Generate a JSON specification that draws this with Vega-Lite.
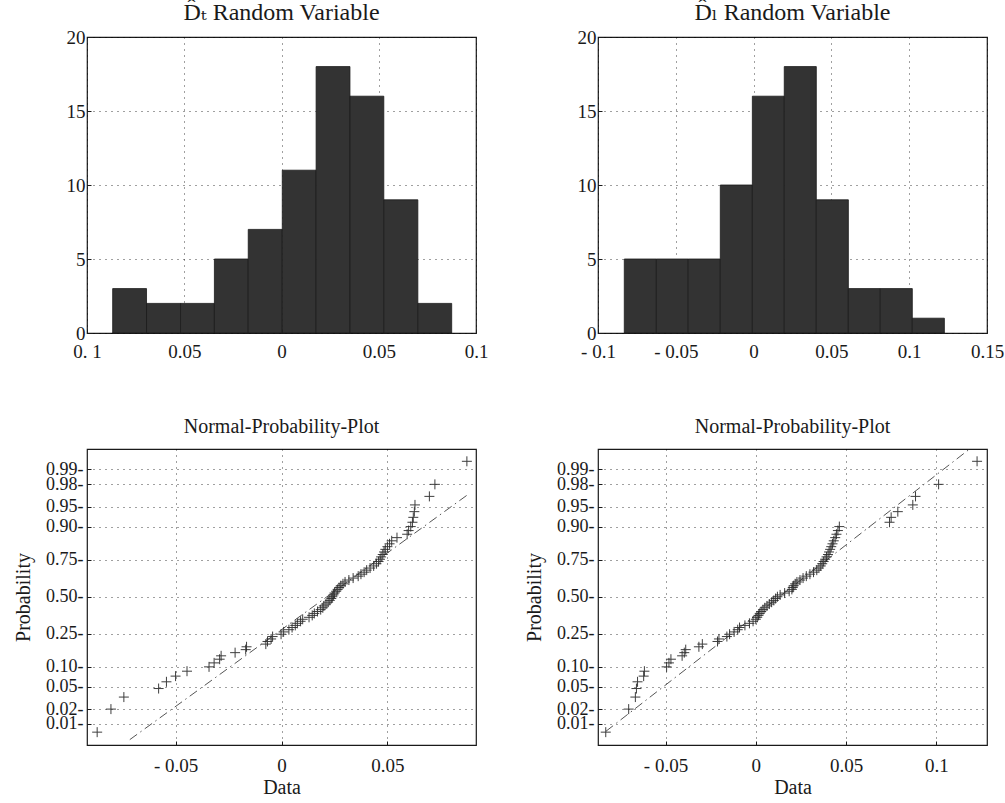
{
  "$schema": "https://vega.github.io/schema/vega-lite/v6.json",
  "padding": {"left": 12, "top": 0, "right": 5, "bottom": 5},
  "columns": 2,
  "bounds": "flush",
  "spacing": {"row": 116, "column": 122},
  "config": {
    "font": "Liberation Serif, DejaVu Serif, serif",
    "view": {"stroke": "#1a1a1a", "strokeWidth": 1.2},
    "axis": {
      "labelFont": "Liberation Serif, DejaVu Serif, serif", "labelFontSize": 19, "labelColor": "#1a1a1a",
      "titleFont": "Liberation Serif, DejaVu Serif, serif", "titleFontSize": 20, "titleFontWeight": "normal", "titleColor": "#1a1a1a",
      "domain": false, "tickSize": -4, "tickColor": "#1a1a1a", "labelFlush": false, "labelOverlap": false,
      "grid": true, "gridColor": "#000000", "gridDash": [1, 5], "gridOpacity": 0.75, "gridWidth": 1
    },
    "title": {"font": "Liberation Serif, DejaVu Serif, serif", "fontWeight": "normal", "color": "#1a1a1a"}
  },
  "datasets": {
    "histT": [
      {"start": -0.0868, "end": -0.0694, "count": 3},
      {"start": -0.0694, "end": -0.0519, "count": 2},
      {"start": -0.0519, "end": -0.0345, "count": 2},
      {"start": -0.0345, "end": -0.0171, "count": 5},
      {"start": -0.0171, "end": 0.0004, "count": 7},
      {"start": 0.0004, "end": 0.0178, "count": 11},
      {"start": 0.0178, "end": 0.0352, "count": 18},
      {"start": 0.0352, "end": 0.0526, "count": 16},
      {"start": 0.0526, "end": 0.0701, "count": 9},
      {"start": 0.0701, "end": 0.0875, "count": 2}
    ],
    "histL": [
      {"start": -0.0831, "end": -0.0625, "count": 5},
      {"start": -0.0625, "end": -0.0420, "count": 5},
      {"start": -0.0420, "end": -0.0214, "count": 5},
      {"start": -0.0214, "end": -0.0008, "count": 10},
      {"start": -0.0008, "end": 0.0197, "count": 16},
      {"start": 0.0197, "end": 0.0403, "count": 18},
      {"start": 0.0403, "end": 0.0609, "count": 9},
      {"start": 0.0609, "end": 0.0814, "count": 3},
      {"start": 0.0814, "end": 0.1020, "count": 3},
      {"start": 0.1020, "end": 0.1226, "count": 1}
    ],
    "npT": [
      {"value": -0.0870, "q": -2.475}, {"value": -0.0805, "q": -2.054}, {"value": -0.0744, "q": -1.834},
      {"value": -0.0580, "q": -1.678}, {"value": -0.0543, "q": -1.555}, {"value": -0.0500, "q": -1.451},
      {"value": -0.0446, "q": -1.361}, {"value": -0.0342, "q": -1.282}, {"value": -0.0318, "q": -1.209},
      {"value": -0.0292, "q": -1.142}, {"value": -0.0285, "q": -1.080}, {"value": -0.0219, "q": -1.022},
      {"value": -0.0169, "q": -0.967}, {"value": -0.0165, "q": -0.915}, {"value": -0.0074, "q": -0.866},
      {"value": -0.0066, "q": -0.818}, {"value": -0.0049, "q": -0.772}, {"value": -0.0042, "q": -0.728},
      {"value": -0.0002, "q": -0.685}, {"value": 0.0010, "q": -0.643}, {"value": 0.0035, "q": -0.603},
      {"value": 0.0050, "q": -0.563}, {"value": 0.0065, "q": -0.524}, {"value": 0.0075, "q": -0.486},
      {"value": 0.0090, "q": -0.449}, {"value": 0.0100, "q": -0.412}, {"value": 0.0130, "q": -0.376},
      {"value": 0.0145, "q": -0.341}, {"value": 0.0155, "q": -0.305}, {"value": 0.0170, "q": -0.270},
      {"value": 0.0185, "q": -0.236}, {"value": 0.0195, "q": -0.202}, {"value": 0.0200, "q": -0.168},
      {"value": 0.0210, "q": -0.134}, {"value": 0.0220, "q": -0.100}, {"value": 0.0228, "q": -0.067},
      {"value": 0.0235, "q": -0.033}, {"value": 0.0240, "q": 0.000}, {"value": 0.0245, "q": 0.033},
      {"value": 0.0250, "q": 0.067}, {"value": 0.0258, "q": 0.100}, {"value": 0.0265, "q": 0.134},
      {"value": 0.0272, "q": 0.168}, {"value": 0.0280, "q": 0.202}, {"value": 0.0290, "q": 0.236},
      {"value": 0.0300, "q": 0.270}, {"value": 0.0318, "q": 0.305}, {"value": 0.0338, "q": 0.341},
      {"value": 0.0362, "q": 0.376}, {"value": 0.0375, "q": 0.412}, {"value": 0.0390, "q": 0.449},
      {"value": 0.0402, "q": 0.486}, {"value": 0.0418, "q": 0.524}, {"value": 0.0435, "q": 0.563},
      {"value": 0.0448, "q": 0.603}, {"value": 0.0458, "q": 0.643}, {"value": 0.0465, "q": 0.685},
      {"value": 0.0470, "q": 0.728}, {"value": 0.0478, "q": 0.772}, {"value": 0.0484, "q": 0.818},
      {"value": 0.0490, "q": 0.866}, {"value": 0.0500, "q": 0.915}, {"value": 0.0510, "q": 0.967},
      {"value": 0.0520, "q": 1.022}, {"value": 0.0545, "q": 1.080}, {"value": 0.0593, "q": 1.142},
      {"value": 0.0600, "q": 1.209}, {"value": 0.0610, "q": 1.282}, {"value": 0.0618, "q": 1.361},
      {"value": 0.0622, "q": 1.451}, {"value": 0.0627, "q": 1.555}, {"value": 0.0630, "q": 1.678},
      {"value": 0.0698, "q": 1.834}, {"value": 0.0724, "q": 2.054}, {"value": 0.0875, "q": 2.475}
    ],
    "npL": [
      {"value": -0.0831, "q": -2.475}, {"value": -0.0704, "q": -2.054}, {"value": -0.0667, "q": -1.834},
      {"value": -0.0661, "q": -1.678}, {"value": -0.0655, "q": -1.555}, {"value": -0.0621, "q": -1.451},
      {"value": -0.0617, "q": -1.361}, {"value": -0.0494, "q": -1.282}, {"value": -0.0481, "q": -1.209},
      {"value": -0.0470, "q": -1.142}, {"value": -0.0408, "q": -1.080}, {"value": -0.0396, "q": -1.022},
      {"value": -0.0388, "q": -0.967}, {"value": -0.0315, "q": -0.915}, {"value": -0.0296, "q": -0.866},
      {"value": -0.0212, "q": -0.818}, {"value": -0.0204, "q": -0.772}, {"value": -0.0160, "q": -0.728},
      {"value": -0.0145, "q": -0.685}, {"value": -0.0120, "q": -0.643}, {"value": -0.0100, "q": -0.603},
      {"value": -0.0090, "q": -0.563}, {"value": -0.0060, "q": -0.524}, {"value": -0.0035, "q": -0.486},
      {"value": -0.0015, "q": -0.449}, {"value": 0.0000, "q": -0.412}, {"value": 0.0008, "q": -0.376},
      {"value": 0.0015, "q": -0.341}, {"value": 0.0022, "q": -0.305}, {"value": 0.0030, "q": -0.270},
      {"value": 0.0040, "q": -0.236}, {"value": 0.0050, "q": -0.202}, {"value": 0.0062, "q": -0.168},
      {"value": 0.0075, "q": -0.134}, {"value": 0.0088, "q": -0.100}, {"value": 0.0100, "q": -0.067},
      {"value": 0.0110, "q": -0.033}, {"value": 0.0120, "q": 0.000}, {"value": 0.0135, "q": 0.033},
      {"value": 0.0160, "q": 0.067}, {"value": 0.0185, "q": 0.100}, {"value": 0.0200, "q": 0.134},
      {"value": 0.0205, "q": 0.168}, {"value": 0.0210, "q": 0.202}, {"value": 0.0218, "q": 0.236},
      {"value": 0.0228, "q": 0.270}, {"value": 0.0245, "q": 0.305}, {"value": 0.0262, "q": 0.341},
      {"value": 0.0280, "q": 0.376}, {"value": 0.0300, "q": 0.412}, {"value": 0.0320, "q": 0.449},
      {"value": 0.0338, "q": 0.486}, {"value": 0.0350, "q": 0.524}, {"value": 0.0360, "q": 0.563},
      {"value": 0.0368, "q": 0.603}, {"value": 0.0376, "q": 0.643}, {"value": 0.0384, "q": 0.685},
      {"value": 0.0392, "q": 0.728}, {"value": 0.0400, "q": 0.772}, {"value": 0.0406, "q": 0.818},
      {"value": 0.0412, "q": 0.866}, {"value": 0.0418, "q": 0.915}, {"value": 0.0425, "q": 0.967},
      {"value": 0.0432, "q": 1.022}, {"value": 0.0440, "q": 1.080}, {"value": 0.0447, "q": 1.142},
      {"value": 0.0455, "q": 1.209}, {"value": 0.0463, "q": 1.282}, {"value": 0.0741, "q": 1.361},
      {"value": 0.0750, "q": 1.451}, {"value": 0.0787, "q": 1.555}, {"value": 0.0870, "q": 1.678},
      {"value": 0.0885, "q": 1.834}, {"value": 0.1013, "q": 2.054}, {"value": 0.1226, "q": 2.475}
    ],
    "lineT": [{"value": -0.0716, "q": -2.612}, {"value": 0.0874, "q": 1.851}],
    "lineL": [{"value": -0.0830, "q": -2.459}, {"value": 0.1300, "q": 2.995}]
  },
  "concat": [
    {
      "width": 389, "height": 296,
      "title": {"text": "D̂ₜ Random Variable", "fontSize": 24, "fontWeight": "normal", "offset": 3},
      "data": {"name": "histT"},
      "mark": {"type": "bar", "fill": "#333333", "stroke": "#1a1a1a", "strokeWidth": 0.8},
      "encoding": {
        "x": {"field": "start", "type": "quantitative",
              "scale": {"domain": [-0.1, 0.1], "nice": false, "zero": false},
              "axis": {"title": null, "values": [-0.1, -0.05, 0, 0.05, 0.1], "labelPadding": 13, "labelOverlap": false,
                       "labelExpr": "datum.value < -0.09 ? '0. 1' : datum.value < -0.04 ? '0.05' : abs(datum.value) < 0.001 ? '0' : datum.value < 0.09 ? '0.05' : '0.1'"}},
        "x2": {"field": "end"},
        "y": {"field": "count", "type": "quantitative",
              "scale": {"domain": [0, 20], "nice": false},
              "axis": {"title": null, "values": [0, 5, 10, 15, 20], "labelPadding": 6, "labelOverlap": false}},
        "y2": {"datum": 0}
      }
    },
    {
      "width": 389, "height": 296,
      "title": {"text": "D̂ₗ Random Variable", "fontSize": 24, "fontWeight": "normal", "offset": 3},
      "data": {"name": "histL"},
      "mark": {"type": "bar", "fill": "#333333", "stroke": "#1a1a1a", "strokeWidth": 0.8},
      "encoding": {
        "x": {"field": "start", "type": "quantitative",
              "scale": {"domain": [-0.1, 0.15], "nice": false, "zero": false},
              "axis": {"title": null, "values": [-0.1, -0.05, 0, 0.05, 0.1, 0.15], "labelPadding": 13, "labelOverlap": false,
                       "labelExpr": "datum.value < -0.09 ? '- 0.1' : datum.value < -0.04 ? '- 0.05' : abs(datum.value) < 0.001 ? '0' : format(datum.value, '.2~f')"}},
        "x2": {"field": "end"},
        "y": {"field": "count", "type": "quantitative",
              "scale": {"domain": [0, 20], "nice": false},
              "axis": {"title": null, "values": [0, 5, 10, 15, 20], "labelPadding": 6, "labelOverlap": false}},
        "y2": {"datum": 0}
      }
    },
    {
      "width": 389, "height": 296,
      "title": {"text": "Normal-Probability-Plot", "fontSize": 20, "fontWeight": "normal", "offset": 12},
      "encoding": {
        "x": {"field": "value", "type": "quantitative",
              "scale": {"domain": [-0.0918, 0.0918], "nice": false, "zero": false},
              "axis": {"title": "Data", "values": [-0.05, 0, 0.05], "labelPadding": 15, "titlePadding": 2, "labelOverlap": false,
                       "labelExpr": "datum.value < -0.01 ? '- 0.05' : datum.value > 0.01 ? '0.05' : '0'"}},
        "y": {"field": "q", "type": "quantitative",
              "scale": {"domain": [-2.71, 2.70], "nice": false, "zero": false},
              "axis": {"title": "Probability", "labelPadding": 8, "titlePadding": 12, "labelOverlap": false, "labelFontSize": 18,
                       "values": [-2.326, -2.054, -1.645, -1.2816, -0.6745, 0, 0.6745, 1.2816, 1.645, 2.054, 2.326],
                       "labelExpr": "datum.value < -2.2 ? '0.01-' : datum.value < -1.9 ? '0.02-' : datum.value < -1.5 ? '0.05-' : datum.value < -1 ? '0.10-' : datum.value < -0.5 ? '0.25-' : datum.value < 0.5 ? '0.50-' : datum.value < 1 ? '0.75-' : datum.value < 1.5 ? '0.90-' : datum.value < 1.9 ? '0.95-' : datum.value < 2.2 ? '0.98-' : '0.99-'"}}
      },
      "layer": [
        {
          "data": {"name": "lineT"},
          "mark": {"type": "line", "clip": true, "stroke": "#555555", "strokeWidth": 1, "strokeDash": [9, 4, 1.5, 4]}
        },
        {
          "data": {"name": "npT"},
          "mark": {"type": "point", "shape": "M-1,0L1,0M0,-1L0,1", "size": 100, "filled": false, "stroke": "#2a2a2a", "strokeWidth": 1, "opacity": 0.9}
        }
      ]
    },
    {
      "width": 389, "height": 296,
      "title": {"text": "Normal-Probability-Plot", "fontSize": 20, "fontWeight": "normal", "offset": 12},
      "encoding": {
        "x": {"field": "value", "type": "quantitative",
              "scale": {"domain": [-0.0874, 0.1281], "nice": false, "zero": false},
              "axis": {"title": "Data", "values": [-0.05, 0, 0.05, 0.1], "labelPadding": 15, "titlePadding": 2, "labelOverlap": false,
                       "labelExpr": "datum.value < -0.01 ? '- 0.05' : abs(datum.value) < 0.01 ? '0' : format(datum.value, '.2~f')"}},
        "y": {"field": "q", "type": "quantitative",
              "scale": {"domain": [-2.71, 2.70], "nice": false, "zero": false},
              "axis": {"title": "Probability", "labelPadding": 8, "titlePadding": 12, "labelOverlap": false, "labelFontSize": 18,
                       "values": [-2.326, -2.054, -1.645, -1.2816, -0.6745, 0, 0.6745, 1.2816, 1.645, 2.054, 2.326],
                       "labelExpr": "datum.value < -2.2 ? '0.01-' : datum.value < -1.9 ? '0.02-' : datum.value < -1.5 ? '0.05-' : datum.value < -1 ? '0.10-' : datum.value < -0.5 ? '0.25-' : datum.value < 0.5 ? '0.50-' : datum.value < 1 ? '0.75-' : datum.value < 1.5 ? '0.90-' : datum.value < 1.9 ? '0.95-' : datum.value < 2.2 ? '0.98-' : '0.99-'"}}
      },
      "layer": [
        {
          "data": {"name": "lineL"},
          "mark": {"type": "line", "clip": true, "stroke": "#555555", "strokeWidth": 1, "strokeDash": [9, 4, 1.5, 4]}
        },
        {
          "data": {"name": "npL"},
          "mark": {"type": "point", "shape": "M-1,0L1,0M0,-1L0,1", "size": 100, "filled": false, "stroke": "#2a2a2a", "strokeWidth": 1, "opacity": 0.9}
        }
      ]
    }
  ]
}
